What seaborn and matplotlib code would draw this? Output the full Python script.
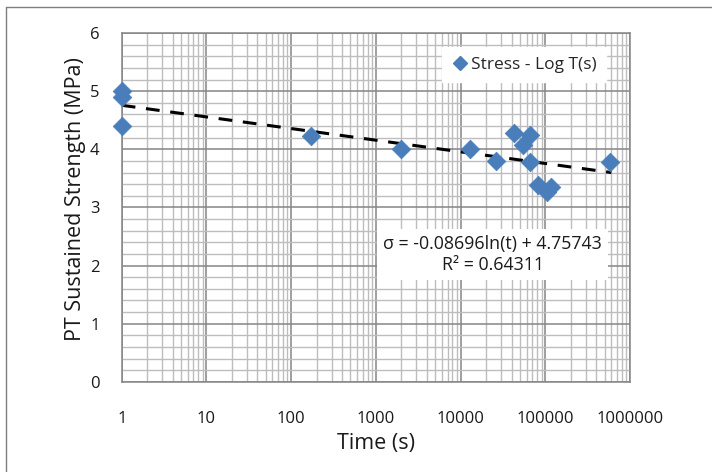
import numpy as np
import pandas as pd
import matplotlib
matplotlib.use("Agg")
import matplotlib.pyplot as plt
import seaborn as sns
from matplotlib.ticker import LogLocator, FixedLocator, MultipleLocator, NullFormatter
from matplotlib.lines import Line2D

# data
time_s = [1, 1, 1, 170, 2000, 13000, 26000, 43000, 54000, 66000, 66000, 81000, 105000, 115000, 580000]
stress_mpa = [5.0, 4.9, 4.40, 4.23, 4.0, 4.0, 3.8, 4.28, 4.07, 4.24, 3.78, 3.38, 3.26, 3.35, 3.78]
fit_slope = -0.08696
fit_intercept = 4.75743
fit_r2 = 0.64311
fit_t = [1, 600000]
x_ticks = [1, 10, 100, 1000, 10000, 100000, 1000000]
x_tick_labels = ["1", "10", "100", "1000", "10000", "100000", "1000000"]
y_ticks = [0, 1, 2, 3, 4, 5, 6]

df = pd.DataFrame({"time": time_s, "stress": stress_mpa})
fit_df = pd.DataFrame({"time": fit_t})
fit_df["stress"] = fit_slope * np.log(fit_df["time"]) + fit_intercept

sns.set_style("white")
plt.rcParams["font.family"] = ["Open Sans", "DejaVu Sans"]

fig = plt.figure(figsize=(7.12, 4.72), dpi=100)
ax = fig.add_axes([0.171, 0.191, 0.714, 0.739])

grid_major = "#858585"
grid_minor = "#bdbdbd"
blue = "#4A7EBB"
text_col = "#1a1a1a"

ax.set_xscale("log")
ax.set_xlim(1, 1000000)
ax.set_ylim(0, 6)

ax.xaxis.set_major_locator(FixedLocator(x_ticks))
ax.xaxis.set_minor_locator(LogLocator(base=10, subs=np.arange(2, 10), numticks=20))
ax.xaxis.set_minor_formatter(NullFormatter())
ax.set_xticklabels(x_tick_labels)
ax.yaxis.set_major_locator(FixedLocator(y_ticks))
ax.yaxis.set_minor_locator(MultipleLocator(0.2))

ax.grid(which="major", color=grid_major, lw=1.1)
ax.grid(which="minor", color=grid_minor, lw=1.0)
ax.set_axisbelow(True)

for side in ["left", "bottom", "right", "top"]:
    ax.spines[side].set_color(grid_major)
    ax.spines[side].set_linewidth(1.1)

ax.tick_params(axis="both", which="major", direction="out", length=7, width=1.1,
               color=grid_major, labelsize=12, labelcolor=text_col)
ax.tick_params(axis="both", which="minor", length=0)
ax.tick_params(axis="x", which="major", pad=14)
ax.tick_params(axis="y", which="major", pad=9)

sns.lineplot(data=fit_df, x="time", y="stress", ax=ax, color="black", lw=2.2,
             linestyle=(0, (4.5, 3.5)), zorder=3)
sns.scatterplot(data=df, x="time", y="stress", ax=ax, marker="D", s=90,
                color=blue, edgecolor=blue, linewidth=0.5, zorder=4, clip_on=False)

ax.set_xlabel("Time (s)", fontsize=15.5, color=text_col, labelpad=4)
ax.set_ylabel("PT Sustained Strength (MPa)", fontsize=15.5, color=text_col, labelpad=3)
ax.yaxis.label.set_y(0.525)

handle = Line2D([], [], marker="D", color=blue, linestyle="none", markersize=7.5)
leg = ax.legend([handle], ["Stress - Log T(s)"], loc="upper right",
                bbox_to_anchor=(0.97, 0.985), fontsize=12.5, frameon=True,
                fancybox=False, handletextpad=0.15, borderpad=0.55, handlelength=1.0)
leg.get_frame().set_edgecolor("white")
leg.get_frame().set_facecolor("white")
leg.get_frame().set_alpha(1.0)

eq_text = f"σ = {fit_slope:.5f}ln(t) + {fit_intercept:.5f}\nR² = {fit_r2:.5f}"
ax.text(0.73, 0.365, eq_text, transform=ax.transAxes, ha="center", va="center",
        fontsize=12.8, color=text_col, linespacing=1.15, zorder=5,
        bbox=dict(facecolor="white", edgecolor="none", boxstyle="square,pad=0.35"))

# light frame around the chart area (top and left edges visible)
fig.add_artist(Line2D([0.0084, 0.0084], [0.0, 0.985], transform=fig.transFigure,
                      color="#7f7f7f", lw=1.0))
fig.add_artist(Line2D([0.0084, 1.0], [0.985, 0.985], transform=fig.transFigure,
                      color="#7f7f7f", lw=1.0))

fig.savefig("out.png", dpi=100)
